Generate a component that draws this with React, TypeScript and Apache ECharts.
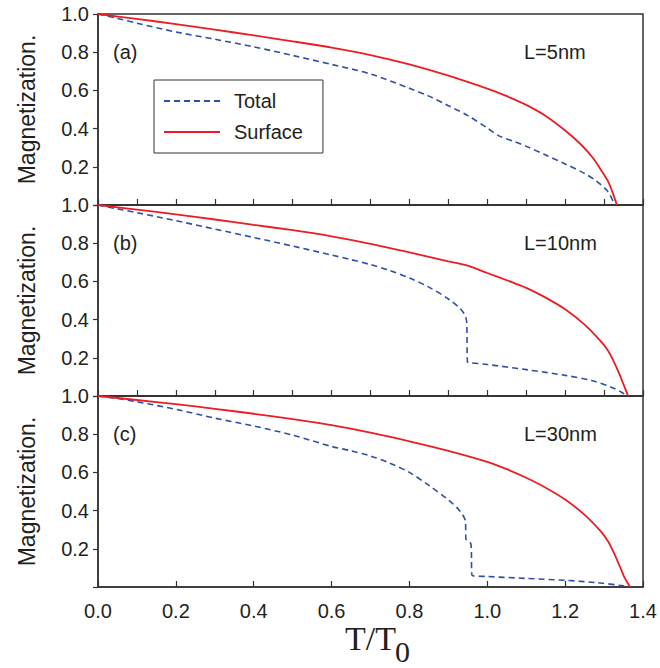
import React, { useEffect, useRef } from "react";
import * as echarts from "echarts";

// Panel (a) L=5nm
const aSurfX = [0, 0.1, 0.2, 0.3, 0.4, 0.5, 0.6, 0.7, 0.8, 0.9, 1.0, 1.05, 1.1, 1.15, 1.2, 1.24, 1.27, 1.29, 1.31, 1.322, 1.333];
const aSurfY = [1, 0.974, 0.947, 0.918, 0.888, 0.857, 0.824, 0.785, 0.736, 0.677, 0.609, 0.57, 0.524, 0.466, 0.39, 0.318, 0.25, 0.19, 0.125, 0.065, 0];
const aTotX = [0, 0.05, 0.1, 0.2, 0.3, 0.4, 0.5, 0.6, 0.7, 0.8, 0.85, 0.9, 0.95, 1.0, 1.03, 1.07, 1.1, 1.15, 1.2, 1.25, 1.28, 1.31, 1.326];
const aTotY = [1, 0.977, 0.952, 0.906, 0.868, 0.828, 0.783, 0.736, 0.686, 0.611, 0.57, 0.52, 0.468, 0.403, 0.362, 0.332, 0.307, 0.262, 0.215, 0.165, 0.126, 0.07, 0.006];

// Panel (b) L=10nm
const bSurfX = [0, 0.1, 0.2, 0.3, 0.4, 0.5, 0.6, 0.7, 0.8, 0.9, 0.945, 1.0, 1.05, 1.1, 1.15, 1.2, 1.25, 1.29, 1.31, 1.325, 1.34, 1.352, 1.362];
const bSurfY = [1, 0.976, 0.951, 0.924, 0.896, 0.868, 0.836, 0.797, 0.752, 0.705, 0.685, 0.644, 0.606, 0.566, 0.515, 0.454, 0.374, 0.29, 0.238, 0.18, 0.112, 0.05, 0];
const bTotX = [0, 0.05, 0.1, 0.2, 0.3, 0.4, 0.5, 0.6, 0.65, 0.7, 0.75, 0.8, 0.85, 0.9, 0.93, 0.942, 0.947, 0.949, 0.953, 1.0, 1.1, 1.2, 1.27, 1.32, 1.345, 1.359];
const bTotY = [1, 0.98, 0.96, 0.918, 0.874, 0.83, 0.785, 0.738, 0.714, 0.688, 0.657, 0.618, 0.57, 0.508, 0.458, 0.425, 0.39, 0.178, 0.175, 0.165, 0.138, 0.108, 0.08, 0.045, 0.02, 0];

// Panel (c) L=30nm
const cSurfX = [0, 0.1, 0.2, 0.3, 0.4, 0.5, 0.6, 0.7, 0.8, 0.9, 1.0, 1.05, 1.1, 1.15, 1.2, 1.25, 1.29, 1.31, 1.325, 1.34, 1.352, 1.367];
const cSurfY = [1, 0.979, 0.957, 0.933, 0.907, 0.879, 0.847, 0.808, 0.763, 0.713, 0.655, 0.617, 0.572, 0.52, 0.458, 0.378, 0.295, 0.24, 0.18, 0.11, 0.052, 0];
const cTotX = [0, 0.05, 0.1, 0.2, 0.3, 0.4, 0.5, 0.6, 0.65, 0.7, 0.75, 0.8, 0.85, 0.9, 0.93, 0.944, 0.945, 0.958, 0.961, 1.0, 1.1, 1.2, 1.28, 1.35, 1.36];
const cTotY = [1, 0.987, 0.97, 0.93, 0.884, 0.843, 0.795, 0.736, 0.713, 0.686, 0.648, 0.6, 0.532, 0.456, 0.397, 0.342, 0.253, 0.225, 0.061, 0.055, 0.045, 0.035, 0.023, 0.006, 0];

const panelLabels = ["(a)", "(b)", "(c)"];
const sizeLabels = ["L=5nm", "L=10nm", "L=30nm"];
const seriesNames = ["Total", "Surface"];
const yTicks = [0.2, 0.4, 0.6, 0.8, 1.0];

const RED = "#ec1c24";
const BLUE = "#2f4fa6";
const AXIS = "#333333";
const TXT = "#231f20";
const SANS = "'Liberation Sans', Arial, Helvetica, sans-serif";
const SERIF = "'Liberation Serif', 'Times New Roman', serif";

const zip = (xs: number[], ys: number[]) => xs.map((x, i) => [x, ys[i]]);

export default function App() {
  const ref = useRef<HTMLDivElement>(null);
  useEffect(() => {
    if (!ref.current) return;
    const chart = echarts.init(ref.current, undefined, { renderer: "svg" });
    const tops = [14, 205, 396];
    const H = 191;
    const grids = tops.map((t) => ({
      left: 98,
      right: 17,
      top: t,
      height: H,
      show: true,
      borderColor: AXIS,
      borderWidth: 1.5,
      backgroundColor: "transparent",
    }));
    const xAxes = [0, 1, 2].map((i) => ({
      type: "value",
      gridIndex: i,
      min: 0,
      max: 1.4,
      interval: i === 2 ? 0.2 : 0.1,
      axisLine: { show: true, lineStyle: { color: AXIS, width: 1.5 } },
      axisTick: { show: true, inside: true, length: 6, lineStyle: { color: AXIS, width: 1.2 } },
      splitLine: { show: false },
      axisLabel: {
        show: i === 2,
        fontSize: 20,
        fontFamily: SANS,
        color: TXT,
        margin: 14,
        formatter: (v: number) => v.toFixed(1),
      },
    }));
    const yAxes = [0, 1, 2].map((i) => ({
      type: "value",
      gridIndex: i,
      min: 0,
      max: 1,
      interval: 0.2,
      name: "Magnetization.",
      nameLocation: "middle",
      nameGap: 60,
      nameTextStyle: { fontSize: 23, fontFamily: SANS, color: TXT },
      axisLine: { show: true, lineStyle: { color: AXIS, width: 1.5 } },
      axisTick: { show: true, inside: false, length: 5, lineStyle: { color: AXIS, width: 1.2 } },
      splitLine: { show: false },
      axisLabel: {
        fontSize: 20,
        fontFamily: SANS,
        color: TXT,
        margin: 9,
        formatter: (v: number) => (yTicks.some((t) => Math.abs(t - v) < 1e-6) ? v.toFixed(1) : ""),
      },
    }));
    const totals = [zip(aTotX, aTotY), zip(bTotX, bTotY), zip(cTotX, cTotY)];
    const surfs = [zip(aSurfX, aSurfY), zip(bSurfX, bSurfY), zip(cSurfX, cSurfY)];
    const series: any[] = [];
    [0, 1, 2].forEach((i) => {
      series.push({
        name: seriesNames[0],
        type: "line",
        xAxisIndex: i,
        yAxisIndex: i,
        data: totals[i],
        symbol: "none",
        smooth: 0.3,
        lineStyle: { color: BLUE, width: 1.6, type: [6, 4] },
        itemStyle: { color: BLUE },
        z: 2,
      });
      series.push({
        name: seriesNames[1],
        type: "line",
        xAxisIndex: i,
        yAxisIndex: i,
        data: surfs[i],
        symbol: "none",
        smooth: 0.3,
        lineStyle: { color: RED, width: 1.8 },
        itemStyle: { color: RED },
        z: 3,
      });
    });
    const graphics: any[] = [];
    tops.forEach((t, i) => {
      graphics.push({
        type: "text",
        x: 113,
        y: t + 38,
        style: { text: panelLabels[i], font: `20px ${SANS}`, fill: TXT, verticalAlign: "middle" },
      });
      graphics.push({
        type: "text",
        x: 524,
        y: t + 38,
        style: { text: sizeLabels[i], font: `20px ${SANS}`, fill: TXT, verticalAlign: "middle" },
      });
    });
    graphics.push({
      type: "text",
      x: 345,
      y: 638,
      style: { text: "T/T", font: `34px ${SERIF}`, fill: TXT, verticalAlign: "middle" },
    });
    graphics.push({
      type: "text",
      x: 395,
      y: 651,
      style: { text: "0", font: `30px ${SERIF}`, fill: TXT, verticalAlign: "middle" },
    });
    chart.setOption({
      animation: false,
      grid: grids,
      xAxis: xAxes,
      yAxis: yAxes,
      legend: {
        data: seriesNames,
        orient: "vertical",
        left: 154,
        top: 80,
        padding: [11, 20, 11, 9],
        itemWidth: 56,
        itemHeight: 14,
        itemGap: 11,
        borderColor: AXIS,
        borderWidth: 1,
        backgroundColor: "#ffffff",
        textStyle: { fontSize: 20, fontFamily: SANS, color: TXT, padding: [0, 0, 0, 9] },
        itemStyle: { opacity: 0 },
      },
      graphic: graphics,
      series,
    });
    return () => chart.dispose();
  }, []);
  return (
    <div
      ref={ref}
      style={{ position: "fixed", left: 0, top: 0, width: 660, height: 668, background: "#fff" }}
    />
  );
}
